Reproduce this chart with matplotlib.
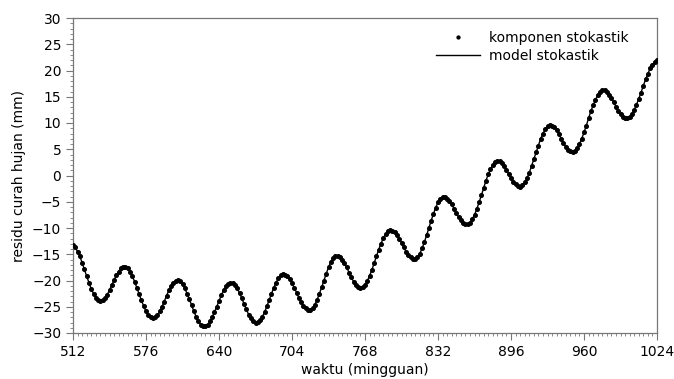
import numpy as np
import matplotlib
matplotlib.use("Agg")
import matplotlib.pyplot as plt
from matplotlib.ticker import MultipleLocator

# week index of each observation (every 2 weeks, 512..1024)
minggu_awal = 512
minggu_akhir = 1024
langkah = 2

# stochastic component
komponen_stokastik = [
    -13.3, -13.7, -14.5, -15.4, -16.6, -17.9, -19.2, -20.4, -21.6, -22.5, -23.3, -23.7, -23.9,
    -23.8, -23.3, -22.7, -21.8, -20.9, -19.9, -19.0, -18.3, -17.7, -17.4,
    -17.4, -17.7, -18.3, -19.2, -20.2, -21.4, -22.6, -23.8, -24.9, -25.9, -26.6, -27.0, -27.2,
    -27.0, -26.6, -25.9, -25.0, -24.0, -22.9, -21.9, -21.0, -20.4, -20.0,
    -19.9, -20.1, -20.7, -21.5, -22.5, -23.6, -24.7, -25.9, -26.9, -27.8, -28.4, -28.7,
    -28.7, -28.4, -27.8, -27.0, -26.0, -25.0, -23.9, -22.8, -21.9, -21.1, -20.6, -20.4,
    -20.5, -20.9, -21.5, -22.4, -23.4, -24.5, -25.5, -26.5, -27.2, -27.8, -28.0,
    -27.9, -27.5, -26.9, -26.0, -24.9, -23.7, -22.5, -21.4, -20.4, -19.6, -19.0, -18.8,
    -18.9, -19.2, -19.8, -20.5, -21.4, -22.3, -23.3, -24.1, -24.8, -25.3, -25.6,
    -25.6, -25.2, -24.6, -23.7, -22.5, -21.3, -20.0, -18.7, -17.5, -16.5, -15.8, -15.4,
    -15.3, -15.5, -16.0, -16.7, -17.5, -18.5, -19.4, -20.2, -20.9, -21.3, -21.4,
    -21.3, -20.8, -20.1, -19.1, -18.0, -16.7, -15.4, -14.1, -13.0, -11.9, -11.2, -10.6, -10.4,
    -10.5, -10.8, -11.3, -12.0, -12.8, -13.7, -14.5, -15.1, -15.6, -15.9,
    -15.9, -15.5, -14.9, -13.9, -12.7, -11.4, -10.0, -8.6, -7.3, -6.1, -5.1, -4.5, -4.1,
    -4.1, -4.4, -4.9, -5.5, -6.3, -7.1, -7.9, -8.5, -9.0, -9.3,
    -9.3, -9.0, -8.3, -7.5, -6.4, -5.1, -3.8, -2.4, -1.0, 0.2, 1.2, 2.0, 2.5, 2.8,
    2.7, 2.4, 1.9, 1.1, 0.3, -0.5, -1.2, -1.7, -2.0,
    -2.1, -1.9, -1.3, -0.5, 0.5, 1.8, 3.1, 4.4, 5.7, 7.0, 8.0, 8.8, 9.4, 9.6,
    9.5, 9.2, 8.6, 7.9, 7.0, 6.2, 5.5, 4.9, 4.6,
    4.5, 4.7, 5.3, 6.0, 7.0, 8.2, 9.5, 10.9, 12.2, 13.4, 14.4, 15.3, 15.9, 16.2,
    16.2, 15.9, 15.4, 14.8, 14.0, 13.1, 12.3, 11.7, 11.2, 10.9,
    10.9, 11.2, 11.8, 12.5, 13.5, 14.6, 15.8, 17.1, 18.3, 19.4, 20.4, 21.1, 21.7, 22.0,
]

# stochastic model (visually coincides with the component)
model_stokastik = list(komponen_stokastik)

x_ticks = [512, 576, 640, 704, 768, 832, 896, 960, 1024]
y_ticks = [-30, -25, -20, -15, -10, -5, 0, 5, 10, 15, 20, 25, 30]

minggu = np.arange(minggu_awal, minggu_akhir + 1, langkah)
assert len(minggu) == len(komponen_stokastik)

plt.rcParams['font.family'] = ['DejaVu Sans']
fig = plt.figure(figsize=(6.74, 3.79), dpi=100)
ax = fig.add_axes([73/674, 1-333/379, (657-73)/674, (333-18)/379])

ax.plot(minggu, komponen_stokastik, linestyle='none', marker='o', markersize=2.6,
        color='black', label='komponen stokastik', zorder=3)
ax.plot(minggu, model_stokastik, color='black', linewidth=1.0,
        label='model stokastik', zorder=2)

ax.set_xlim(512, 1024)
ax.set_ylim(-30, 30)
ax.set_xticks(x_ticks)
ax.set_yticks(y_ticks)
ax.xaxis.set_minor_locator(MultipleLocator(4))
ax.yaxis.set_minor_locator(MultipleLocator(1))
ax.tick_params(axis='both', which='major', direction='out', length=5, width=0.8,
               color='#777777', labelsize=10, labelcolor='black', top=False, right=False)
ax.tick_params(axis='both', which='minor', direction='out', length=2.5, width=0.6,
               color='#777777', top=False, right=False)
for s in ax.spines.values():
    s.set_color('#777777')
    s.set_linewidth(0.9)

ax.set_xlabel('waktu (mingguan)', fontsize=10, labelpad=3)
ax.set_ylabel('residu curah hujan (mm)', fontsize=10, labelpad=4)

leg = ax.legend(loc='upper right', bbox_to_anchor=(0.965, 0.985), frameon=False,
                fontsize=10, handlelength=3.2, handletextpad=0.6, borderaxespad=0.2,
                labelspacing=0.25, markerscale=0.8)

fig.savefig('out.png', dpi=100)
